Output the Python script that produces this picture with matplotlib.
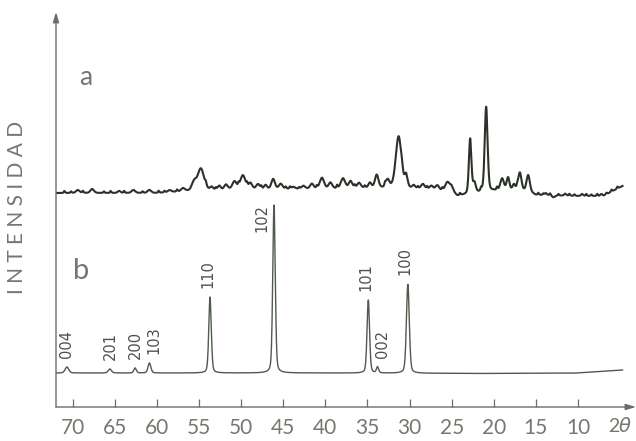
import numpy as np
import matplotlib
matplotlib.use("Agg")
import matplotlib.pyplot as plt

# 2-theta grid limits
x_start, x_end = 71.9, 4.7

# curve a: background level (axis units) and peaks (centre, height, fwhm)
a_bg_x = [71.9, 60.0, 56.0, 52.0, 45.0, 40.0, 35.0, 29.0, 25.0, 24.3, 20.0, 16.0, 15.0, 10.0, 7.0, 4.7]
a_bg_y = [214, 214, 216, 217, 218, 218, 219, 218, 215, 211, 216, 216, 212, 211, 211, 221]
a_pos = [69.4, 67.7, 64.5, 62.8, 60.9, 58.5, 56.9, 55.6, 54.8, 53.5, 52.6, 51.8, 50.8, 49.8,
         48.9, 48.0, 47.1, 46.2, 45.3, 43.8, 42.6, 41.6, 40.4, 39.4, 37.9, 37.0, 36.0, 34.7,
         33.9, 32.6, 31.3, 30.4, 29.5, 28.4, 27.4, 26.7, 25.5, 25.0, 22.8, 22.3, 20.9, 19.0,
         18.3, 17.6, 16.9, 15.9, 13.8, 12.9, 11.5, 9.5, 7.2]
a_hgt = [3, 4, 2, 3, 3, 2, 3, 8, 22, 3, 4, 5, 8, 14,
         6, 5, 4, 10, 5, 2, 3, 5, 11, 6, 10, 7, 5, 5,
         13, 8, 52, 12, 3, 5, 4, 5, 9, 5, 55, 10, 85, 12,
         13, 6, 18, 16, 2, -2, 2, 2, 2]
a_fwhm = [0.5, 0.5, 0.4, 0.5, 0.5, 0.5, 0.5, 0.6, 0.9, 0.4, 0.4, 0.5, 0.6, 0.7,
          0.5, 0.5, 0.4, 0.5, 0.5, 0.5, 0.5, 0.5, 0.6, 0.5, 0.6, 0.5, 0.5, 0.4,
          0.5, 0.5, 0.8, 0.4, 0.4, 0.5, 0.5, 0.5, 0.6, 0.5, 0.35, 0.4, 0.4, 0.5,
          0.4, 0.4, 0.45, 0.45, 0.3, 0.4, 0.3, 0.3, 0.3]
# fine ripple on curve a (small spikes seen along the trace)
r_pos = [71.0, 70.2, 68.8, 66.3, 65.5, 63.9, 61.7, 59.8, 59.1, 57.6, 54.2, 53.0, 50.3, 49.3,
         47.6, 44.7, 44.2, 43.1, 41.0, 38.6, 36.5, 35.3, 32.9, 30.9, 29.0, 27.9, 26.1, 24.0,
         21.5, 19.6, 17.2, 14.7, 14.1, 13.3, 12.3, 11.0, 10.4, 9.0, 8.4, 7.7, 6.6, 6.0, 5.3]
r_hgt = [2, 1.5, 2, 1.5, 2, 2, 1.5, 2, 1.5, 2, 3, 2, 3, 3,
         2.5, 2, 2, 1.5, 2.5, 3, 2.5, 2, 3, 4, 2, 2.5, 2.5, 2,
         3, 3, 3, 2, 1.5, 2, 1.5, 2, 1.5, 2, 1.5, 2, 1.5, 2, 2]

# curve b: background and indexed reflections
b_bg_x = [71.9, 40.0, 20.0, 10.0, 4.7]
b_bg_y = [34, 34, 33.5, 34, 37]
b_pos = [70.7, 65.6, 62.6, 60.9, 53.7, 46.1, 34.9, 33.8, 30.2]
b_hgt = [6, 4, 5, 10, 76, 168, 73, 6, 89]
b_fwhm = [0.5, 0.45, 0.35, 0.4, 0.35, 0.35, 0.35, 0.3, 0.4]
b_hkl = ["004", "201", "200", "103", "110", "102", "101", "002", "100"]

ticks = [70, 65, 60, 55, 50, 45, 40, 35, 30, 25, 20, 15, 10]


def pvoigt(x, c, h, w, eta=0.3):
    s = w / 2.3548
    g = np.exp(-0.5 * ((x - c) / s) ** 2)
    l = 1.0 / (1.0 + ((x - c) / (w / 2)) ** 2)
    return h * ((1 - eta) * g + eta * l)


def trace(x, bgx, bgy, pos, hgt, fwhm):
    y = np.interp(x, bgx[::-1], bgy[::-1])
    for c, h, w in zip(pos, hgt, fwhm):
        y = y + pvoigt(x, c, h, w)
    return y


x = np.linspace(x_end, x_start, 6000)
ya = trace(x, a_bg_x, a_bg_y, a_pos, a_hgt, a_fwhm)
ya = ya + trace(x, [71.9, 4.7], [0, 0], r_pos, r_hgt, [0.18] * len(r_pos))
yb = trace(x, b_bg_x, b_bg_y, b_pos, b_hgt, b_fwhm)

fig = plt.figure(figsize=(6.36, 4.41), dpi=100)
ax = fig.add_axes([56 / 636, 34 / 441, 580 / 636, 395 / 441])
ax.set_xlim(72.0, 3.1)
ax.set_ylim(0, 395)

axis_col = "#6d6d66"
text_col = "#77776f"

ax.plot(x, ya, color="#2b3329", lw=1.5)
ax.plot(x, yb, color="#4f5a4d", lw=1.0)

# peak labels (rotated, above each reflection)
dx = {"103": -0.5, "002": -0.6, "110": 0.2, "101": 0.3, "100": 0.3, "102": 1.4}
for c, h, lab in zip(b_pos, b_hgt, b_hkl):
    top = np.interp(c, x, yb)
    if lab == "102":
        ax.text(c + dx[lab], top + 1, lab, rotation=90, ha="center", va="top",
                fontsize=10.5, color="#505050", family="DejaVu Sans")
    else:
        ax.text(c + dx.get(lab, 0), top + 9, lab, rotation=90, ha="center", va="bottom",
                fontsize=10.5, color="#505050", family="DejaVu Sans")

for s in ["top", "right", "left", "bottom"]:
    ax.spines[s].set_visible(False)

# axes drawn as arrows
ax.annotate("", xy=(0, 1.0), xytext=(0, 0), xycoords="axes fraction",
            arrowprops=dict(arrowstyle="-|>,head_length=0.6,head_width=0.18",
                            color=axis_col, lw=1.0, shrinkA=0, shrinkB=0))
ax.annotate("", xy=(1.0, 0), xytext=(0, 0), xycoords="axes fraction",
            arrowprops=dict(arrowstyle="-|>,head_length=0.6,head_width=0.18",
                            color=axis_col, lw=1.0, shrinkA=0, shrinkB=0))

ax.set_xticks(ticks)
ax.set_xticklabels([str(t) for t in ticks], family="Lato", fontsize=15, color=text_col)
ax.tick_params(axis="x", direction="in", length=6, width=0.9, color=axis_col, pad=8)
ax.set_yticks([])

ax.text(-0.068, 0.504, " ".join("INTENSIDAD"), transform=ax.transAxes, rotation=90,
        ha="center", va="center", fontsize=15, color=text_col, family="Lato")
ax.text(0.04, 0.835, "a", transform=ax.transAxes, fontsize=19, color=text_col,
        family="Lato", ha="left", va="center")
ax.text(0.03, 0.345, "b", transform=ax.transAxes, fontsize=21, color=text_col,
        family="Lato", ha="left", va="center")
ax.text(0.961, -0.05, "2", transform=ax.transAxes, fontsize=14,
        color=text_col, family="Lato", ha="center", va="center")
ax.text(0.98, -0.05, "θ", transform=ax.transAxes, fontsize=14, style="italic",
        color=text_col, family="DejaVu Sans", ha="center", va="center")

fig.savefig("out.png", dpi=100)
